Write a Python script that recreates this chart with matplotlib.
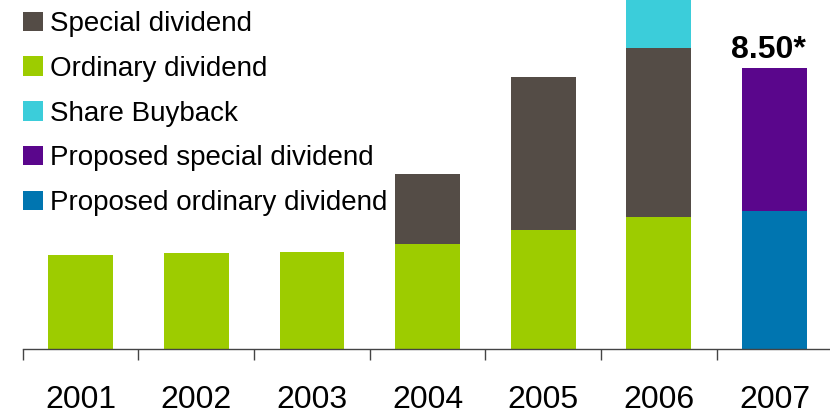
import matplotlib.pyplot as plt
from matplotlib.patches import Patch
import numpy as np

plt.rcParams["font.family"] = ["Liberation Sans", "DejaVu Sans"]

years = ["2001", "2002", "2003", "2004", "2005", "2006", "2007"]
ordinary = [2.85, 2.91, 2.94, 3.18, 3.61, 4.00, 0.0]
special = [0.0, 0.0, 0.0, 2.12, 4.62, 5.11, 0.0]
buyback = [0.0, 0.0, 0.0, 0.0, 0.0, 2.00, 0.0]
proposed_ordinary = [0.0, 0.0, 0.0, 0.0, 0.0, 0.0, 4.18]
proposed_special = [0.0, 0.0, 0.0, 0.0, 0.0, 0.0, 4.32]
total_label = "8.50*"

colors = {
    "Special dividend": "#544C46",
    "Ordinary dividend": "#9DCC00",
    "Share Buyback": "#3BCDDA",
    "Proposed special dividend": "#5A068C",
    "Proposed ordinary dividend": "#0075B0",
}

x = np.arange(len(years))
width = 0.56

fig = plt.figure(figsize=(8.3, 4.12), dpi=100)
ax = fig.add_axes([0.0275, 0.1522, 0.9725, 0.8478])

ordinary = np.array(ordinary)
special = np.array(special)
buyback = np.array(buyback)
proposed_ordinary = np.array(proposed_ordinary)
proposed_special = np.array(proposed_special)

ax.bar(x, ordinary, width, color=colors["Ordinary dividend"])
ax.bar(x, special, width, bottom=ordinary, color=colors["Special dividend"])
ax.bar(x, buyback, width, bottom=ordinary + special, color=colors["Share Buyback"])
ax.bar(x, proposed_ordinary, width, color=colors["Proposed ordinary dividend"])
ax.bar(x, proposed_special, width, bottom=proposed_ordinary,
       color=colors["Proposed special dividend"])

top_2007 = proposed_ordinary[-1] + proposed_special[-1]
ax.annotate(total_label, xy=(x[-1], top_2007), xytext=(-4.5, 7.5),
            textcoords="offset points", ha="center", va="baseline",
            fontsize=23, fontweight="bold", color="black")

ax.set_xlim(-0.5, 6.48)
ax.set_ylim(0, 10.56)

for side in ["top", "right", "left"]:
    ax.spines[side].set_visible(False)
ax.spines["bottom"].set_color("#444444")
ax.spines["bottom"].set_linewidth(1.0)
ax.set_yticks([])

ax.set_xticks(x)
ax.set_xticklabels(years, fontsize=23)
ax.tick_params(axis="x", which="major", length=0, pad=26)
ax.set_xticks(np.arange(-0.5, 6.0, 1.0), minor=True)
ax.tick_params(axis="x", which="minor", length=8, width=1.0,
               color="#444444", direction="out")

order = ["Special dividend", "Ordinary dividend", "Share Buyback",
         "Proposed special dividend", "Proposed ordinary dividend"]
handles = [Patch(facecolor=colors[k], edgecolor="none", label=k) for k in order]
fig.legend(handles=handles, loc="upper left", bbox_to_anchor=(0.028, 0.973),
           frameon=False, fontsize=20, handlelength=0.7, handleheight=0.7,
           handletextpad=0.25, labelspacing=0.675, borderpad=0.0,
           borderaxespad=0.0)

fig.savefig("out.png", dpi=100)
